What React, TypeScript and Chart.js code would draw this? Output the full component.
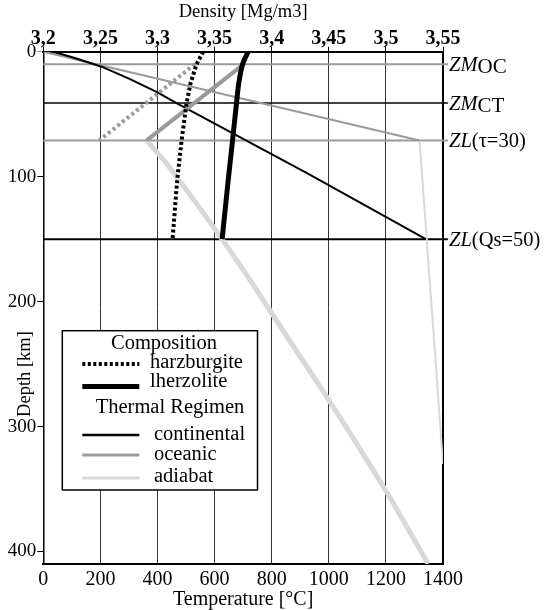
import React, { useEffect, useRef } from 'react';
import { Chart, registerables } from 'chart.js';

Chart.register(...registerables);

const FONT = '"Liberation Serif", "Times New Roman", "DejaVu Serif", serif';

// ---- axes ----
const tempTicks = [0, 200, 400, 600, 800, 1000, 1200, 1400];
const tempTickLabels = ['0', '200', '400', '600', '800', '1000', '1200', '1400'];
const depthTicks = [0, 100, 200, 300, 400];
const depthTickLabels = ['0', '100', '200', '300', '400'];
const densityTicks = [3.2, 3.25, 3.3, 3.35, 3.4, 3.45, 3.5, 3.55];
const densityTickLabels = ['3,2', '3,25', '3,3', '3,35', '3,4', '3,45', '3,5', '3,55'];

// ---- reference depths (km) ----
const refDepths = [10, 41, 71, 150];
const refItalic = ['ZM', 'ZM', 'ZL', 'ZL'];
const refNormal = ['OC', 'CT', '(τ=30)', '(Qs=50)'];
const refColors = ['#9a9a9a', '#000000', '#9a9a9a', '#000000'];

// ---- thermal regimes: temperature (°C) vs depth (km) ----
const continentalT = [35, 110, 204, 300, 400, 465, 930, 1340];
const continentalZ = [0, 5, 12, 21.5, 32.5, 41, 98, 150];
const oceanicT = [0, 1318];
const oceanicZ = [0, 71];
const adiabatT = [1318, 1400];
const adiabatZ = [71, 330];

// ---- densities (Mg/m3) vs depth (km) ----
const compZ = [0, 10, 25, 41, 71, 103, 150];
const harzContRho = [3.34, 3.3342, 3.329, 3.3255, 3.3211, 3.3172, 3.3132];
const lherzContRho = [3.3794, 3.3745, 3.3712, 3.3692, 3.3657, 3.3619, 3.3566];
const ocZ = [10, 71];
const harzOcRho = [3.3327, 3.249];
const lherzOcRho = [3.3756, 3.2905];
const adZ = [71, 93, 159, 240, 279, 350, 410];
const lherzAdRho = [3.2905, 3.3109, 3.3634, 3.422, 3.4502, 3.499, 3.537];

const pts = (xs: number[], ys: number[]) => xs.map((x, i) => ({ x, y: ys[i] }));

const overlay = {
  id: 'overlay',
  afterDraw(chart: any) {
    const { ctx, scales } = chart;
    const y = scales.y;
    ctx.save();
    ctx.fillStyle = '#000';
    // right-hand reference labels
    refDepths.forEach((d, i) => {
      const py = y.getPixelForValue(d);
      const x0 = 449;
      ctx.textAlign = 'left';
      ctx.textBaseline = 'alphabetic';
      ctx.font = `italic 20.5px ${FONT}`;
      ctx.fillText(refItalic[i], x0, py + 7);
      const w = ctx.measureText(refItalic[i]).width;
      const sub = i < 2;
      ctx.font = `${sub ? 21 : 20.5}px ${FONT}`;
      ctx.fillText(refNormal[i], x0 + w, py + 7 + (sub ? 2 : 0));
    });
    // depth title
    ctx.save();
    ctx.translate(30, 374);
    ctx.rotate(-Math.PI / 2);
    ctx.textAlign = 'center';
    ctx.font = `18.5px ${FONT}`;
    ctx.fillText('Depth [km]', 0, 0);
    ctx.restore();

    // legend
    const bx = 62.3, by = 330.7, bw = 195.2, bh = 159.3;
    ctx.fillStyle = '#fff';
    ctx.fillRect(bx, by, bw, bh);
    ctx.strokeStyle = '#000';
    ctx.lineWidth = 1.5;
    ctx.strokeRect(bx, by, bw, bh);
    ctx.fillStyle = '#000';
    ctx.font = `20.5px ${FONT}`;
    ctx.textAlign = 'left';
    ctx.fillText('Composition', 111, 349);
    ctx.fillText('Thermal Regimen', 95.7, 413);
    const items = [
      { t: 'harzburgite', c: '#000', w: 4, dash: [3, 2.5], ly: 364, tx: 150, ty: 368 },
      { t: 'lherzolite', c: '#000', w: 5, dash: [], ly: 386.5, tx: 150, ty: 387 },
      { t: 'continental', c: '#000', w: 2.5, dash: [], ly: 435, tx: 154, ty: 440 },
      { t: 'oceanic', c: '#9a9a9a', w: 3, dash: [], ly: 455, tx: 154, ty: 459.5 },
      { t: 'adiabat', c: '#d8d8d8', w: 3, dash: [], ly: 478, tx: 154, ty: 482 },
    ];
    items.forEach((it) => {
      ctx.beginPath();
      ctx.setLineDash(it.dash);
      ctx.strokeStyle = it.c;
      ctx.lineWidth = it.w;
      ctx.moveTo(82.3, it.ly);
      ctx.lineTo(139.3, it.ly);
      ctx.stroke();
      ctx.setLineDash([]);
      ctx.fillText(it.t, it.tx, it.ty);
    });
    ctx.restore();
  },
};

export default function App() {
  const ref = useRef<HTMLCanvasElement>(null);
  useEffect(() => {
    const canvas = ref.current!;
    const refSets = refDepths.map((d, i) => ({
      label: refNormal[i],
      data: pts([0, 1417], [d, d]),
      xAxisID: 'x',
      yAxisID: 'y',
      borderColor: refColors[i],
      borderWidth: i === 1 ? 1.5 : 2,
      clip: false as any,
      order: 20,
    }));
    const chart = new Chart(canvas, {
      type: 'line',
      data: {
        datasets: [
          ...refSets,
          { label: 'adiabat', data: pts(adiabatT, adiabatZ), xAxisID: 'x', yAxisID: 'y', borderColor: '#d8d8d8', borderWidth: 2, order: 12 },
          { label: 'oceanic', data: pts(oceanicT, oceanicZ), xAxisID: 'x', yAxisID: 'y', borderColor: '#9a9a9a', borderWidth: 2, order: 11 },
          { label: 'continental', data: pts(continentalT, continentalZ), xAxisID: 'x', yAxisID: 'y', borderColor: '#000', borderWidth: 2, order: 10 },
          { label: 'lherz adiabat', data: pts(lherzAdRho, adZ), xAxisID: 'x2', yAxisID: 'y', borderColor: '#d8d8d8', borderWidth: 5, tension: 0.4, order: 6 },
          { label: 'harz oceanic', data: pts(harzOcRho, ocZ), xAxisID: 'x2', yAxisID: 'y', borderColor: '#9a9a9a', borderWidth: 4, borderDash: [3, 3], order: 5 },
          { label: 'lherz oceanic', data: pts(lherzOcRho, ocZ), xAxisID: 'x2', yAxisID: 'y', borderColor: '#9a9a9a', borderWidth: 4, order: 4 },
          { label: 'harzburgite', data: pts(harzContRho, compZ), xAxisID: 'x2', yAxisID: 'y', borderColor: '#000', borderWidth: 4, borderDash: [3, 2.5], order: 2 },
          { label: 'lherzolite', data: pts(lherzContRho, compZ), xAxisID: 'x2', yAxisID: 'y', borderColor: '#000', borderWidth: 5, tension: 0.3, order: 1 },
        ] as any,
      },
      options: {
        responsive: false,
        animation: false,
        layout: { padding: { left: 0, right: 104, top: 0, bottom: 0 } },
        plugins: { legend: { display: false }, tooltip: { enabled: false } },
        elements: { point: { radius: 0 }, line: { tension: 0, borderCapStyle: 'butt', fill: false } },
        scales: {
          x: {
            type: 'linear',
            position: 'bottom',
            min: 0,
            max: 1400,
            afterBuildTicks: (s: any) => { s.ticks = tempTicks.map((v) => ({ value: v })); },
            afterFit: (s: any) => { s.height = 46; },
            grid: {
              drawTicks: false,
              color: (c: any) => (c.tick && c.tick.value === 1400 ? '#000' : '#333'),
              lineWidth: (c: any) => (c.tick && c.tick.value === 1400 ? 2 : 1),
            },
            border: { color: '#000', width: 2 },
            ticks: {
              color: '#000',
              font: { family: FONT, size: 20 },
              padding: 3.5,
              maxRotation: 0,
              autoSkip: false,
              callback: (_v: any, i: number) => tempTickLabels[i],
            },
            title: { display: true, text: 'Temperature [°C]', color: '#000', font: { family: FONT, size: 20, lineHeight: 1 }, padding: { top: 0, bottom: 0 } },
          },
          x2: {
            type: 'linear',
            position: 'top',
            min: 3.2,
            max: 3.55,
            afterBuildTicks: (s: any) => { s.ticks = densityTicks.map((v) => ({ value: v })); },
            afterFit: (s: any) => { s.height = 51.7; },
            grid: { drawOnChartArea: false, drawTicks: true, tickLength: 5, color: '#000' },
            border: { color: '#000', width: 2 },
            ticks: {
              color: '#000',
              font: { family: FONT, size: 20, weight: 'bold', lineHeight: 0.8 },
              padding: 0,
              maxRotation: 0,
              autoSkip: false,
              callback: (_v: any, i: number) => densityTickLabels[i],
            },
            title: { display: true, text: 'Density [Mg/m3]', color: '#000', font: { family: FONT, size: 18.5, lineHeight: 1 }, padding: { top: 3, bottom: 0 } },
          },
          y: {
            type: 'linear',
            position: 'left',
            reverse: true,
            min: 0,
            max: 410,
            afterBuildTicks: (s: any) => { s.ticks = depthTicks.map((v) => ({ value: v })); },
            afterFit: (s: any) => { s.width = 43.3; },
            grid: {
              drawOnChartArea: false,
              drawTicks: true,
              tickLength: 6,
              color: (c: any) => (c.tick && c.tick.value === 0 ? '#9a9a9a' : '#000'),
            },
            border: { color: '#000', width: 1.5 },
            ticks: {
              color: '#000',
              font: { family: FONT, size: 19 },
              padding: 1,
              autoSkip: false,
              callback: (_v: any, i: number) => depthTickLabels[i],
            },
          },
        },
      } as any,
      plugins: [overlay],
    });
    return () => chart.destroy();
  }, []);
  return (
    <canvas
      ref={ref}
      width={547}
      height={610}
      style={{ position: 'absolute', left: 0, top: 0, display: 'block' }}
    />
  );
}
